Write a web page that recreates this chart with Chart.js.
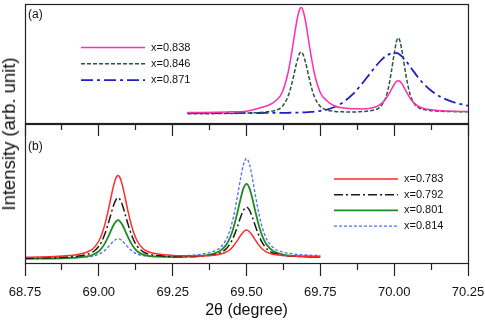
<!DOCTYPE html>
<html>
<head>
<meta charset="utf-8">
<script src="https://cdn.jsdelivr.net/npm/chart.js@4.4.1/dist/chart.umd.min.js"></script>
<style>
  html, body { margin: 0; padding: 0; background: #fff; }
  #wrap { position: relative; width: 485px; height: 321px; overflow: hidden; }
  #topPanel { position: absolute; left: 0; top: 0; }
  #botPanel { position: absolute; left: 0; top: 120px; }
  #ytitle {
    position: absolute; left: 9px; top: 134px;
    transform: translate(-50%, -50%) rotate(-90deg);
    font: 18.5px "Liberation Sans", Arial, sans-serif; color: #111; white-space: nowrap;
  }
</style>
</head>
<body>
<div id="wrap">
  <canvas id="botPanel" width="485" height="201"></canvas>
  <canvas id="topPanel" width="485" height="140"></canvas>
  <div id="ytitle">Intensity (arb. unit)</div>
</div>
<script>
// shared x axis
var xTickLabels = ['68.75', '69.00', '69.25', '69.50', '69.75', '70.00', '70.25'];

// panel (a)
var xTop = [69.30, 69.35, 69.40, 69.45, 69.50, 69.55, 69.58, 69.60, 69.62, 69.64,
  69.65, 69.66, 69.67, 69.68, 69.685, 69.69, 69.70, 69.71, 69.72, 69.73,
  69.75, 69.77, 69.80, 69.83, 69.86, 69.89, 69.92, 69.95, 69.97, 69.98,
  69.99, 70.00, 70.01, 70.015, 70.02, 70.03, 70.04, 70.05, 70.06, 70.08,
  70.10, 70.13, 70.16, 70.20, 70.25];
var a838 = [10.5, 10.6, 10.8, 11.2, 11.8, 15.5, 18.5, 22.5, 30, 49.5,
  65, 83.3, 101.5, 113.7, 115.5, 113.7, 101.5, 83.3, 65, 49.5,
  30.3, 22.8, 16.8, 15, 14.2, 14.1, 14.8, 17.8, 23.5, 27.9,
  33.3, 38.5, 42, 42.2, 41.6, 37.4, 31.9, 26.6, 22.3, 17,
  14.5, 13, 12.3, 11.8, 11.4];
var a846 = [9.2, 9.3, 9.4, 9.5, 9.9, 10.6, 11.5, 12.8, 16.2, 26.2,
  35.5, 47.6, 60.5, 69.6, 71, 69.6, 60.5, 47.6, 35.5, 26.2,
  16.5, 13.2, 11.6, 11.1, 11, 11.4, 12.3, 15.4, 24.3, 34.6,
  50.4, 69.2, 83.7, 85, 81.5, 66, 47.5, 33, 23.6, 15.7,
  13.5, 12.2, 11.7, 11.4, 11.3];
var a871 = [9.85, 9.9, 9.9, 9.9, 10.0, 10.0, 10.1, 10.1, 10.2, 10.2,
  10.3, 10.3, 10.4, 10.5, 10.5, 10.6, 10.7, 10.9, 11.1, 11.3,
  12.1, 13.2, 16.2, 21.3, 28.8, 38.9, 50.2, 61, 66.6, 68.4,
  69.6, 70.2, 69.8, 69.2, 68.1, 65.5, 62, 58.1, 54, 46,
  39.1, 31.2, 25.7, 20.9, 17.3];

// panel (b)
var xBot = [68.75, 68.80, 68.85, 68.90, 68.93, 68.96, 68.98, 69.00, 69.01, 69.02,
  69.03, 69.04, 69.05, 69.06, 69.065, 69.07, 69.08, 69.09, 69.10, 69.11,
  69.12, 69.13, 69.15, 69.17, 69.20, 69.25, 69.30, 69.33, 69.36, 69.39,
  69.41, 69.43, 69.44, 69.45, 69.46, 69.47, 69.48, 69.49, 69.50, 69.51,
  69.52, 69.53, 69.54, 69.55, 69.56, 69.57, 69.59, 69.62, 69.65, 69.70, 69.75];
var b783 = [5.7, 6.0, 6.5, 7.5, 8.6, 10.9, 14.2, 22, 28.7, 38.1,
  50.1, 64, 77.4, 86.3, 87.5, 86.3, 77.4, 64, 50.1, 38.1,
  28.7, 22, 14.3, 11, 8.9, 7.6, 7.2, 7.1, 7.3, 7.8,
  8.75, 10.7, 12.5, 15.1, 18.6, 22.9, 27.5, 31.3, 32.9, 31.3,
  27.5, 22.9, 18.6, 15.1, 12.5, 10.6, 8.7, 7.6, 7.2, 6.8, 6.8];
var b792 = [4.7, 4.9, 5.3, 6.0, 6.9, 8.6, 11, 16.8, 21.7, 28.7,
  37.6, 47.8, 57.8, 64.3, 65.2, 64.3, 57.8, 47.8, 37.6, 28.7,
  21.7, 16.8, 11.2, 8.8, 7.4, 6.5, 6.4, 6.6, 7.2, 8.3,
  10.1, 13.9, 17.4, 22.2, 28.9, 37, 45.7, 52.9, 55.9, 52.9,
  45.7, 37, 28.9, 22.2, 17.4, 13.8, 10, 7.9, 7, 6.4, 6.2];
var b801 = [4.1, 4.3, 4.5, 5.0, 5.5, 6.6, 8.2, 11.8, 15, 19.4,
  25.1, 31.7, 38, 42.2, 42.8, 42.2, 38, 31.7, 25.1, 19.4,
  15, 11.8, 8.4, 6.9, 6.3, 5.9, 6.3, 6.7, 7.7, 9.3,
  12, 17.6, 22.6, 29.8, 39.6, 51.5, 64.2, 74.8, 79.1, 74.8,
  64.2, 51.5, 39.6, 29.8, 22.6, 17.6, 12.1, 8.7, 7.3, 6.3, 5.8];
var b814 = [5.0, 5.0, 5.2, 5.4, 5.7, 6.2, 7.0, 8.8, 10.4, 12.6,
  15.5, 18.7, 21.9, 24, 24.3, 24, 21.9, 18.7, 15.5, 12.6,
  10.4, 8.8, 7.3, 6.7, 6.7, 6.8, 7.5, 8.1, 9.5, 11.8,
  15.2, 22.7, 29.5, 39.1, 52, 67.8, 84.7, 98.8, 104.5, 98.8,
  84.7, 67.8, 52, 39.1, 29.5, 22.9, 15.4, 11.1, 9.4, 8, 7.4];

var FONT = '"Liberation Sans", Arial, sans-serif';

function pts(xs, ys) {
  return xs.map(function (x, i) { return { x: x, y: ys[i] }; });
}

function tickText(v) {
  for (var i = 0; i < xTickLabels.length; i++) {
    if (Math.abs(parseFloat(xTickLabels[i]) - v) < 1e-6) return xTickLabels[i];
  }
  return '';
}

function series(label, xs, ys, color, width, dash) {
  return {
    label: label, data: pts(xs, ys), borderColor: color, borderWidth: width,
    borderDash: dash, pointRadius: 0, fill: false, cubicInterpolationMode: 'monotone'
  };
}

// frame, panel tag and in-plot legend
var panelDecor = {
  id: 'panelDecor',
  afterDraw: function (chart, args, o) {
    var ctx = chart.ctx, a = chart.chartArea;
    ctx.save();
    ctx.strokeStyle = '#222';
    ctx.lineWidth = 1.2;
    ctx.strokeRect(a.left + 0.5, a.top + 0.5, a.right - a.left, a.bottom - a.top);
    ctx.fillStyle = '#111';
    ctx.textAlign = 'left';
    ctx.textBaseline = 'middle';
    ctx.font = '12px ' + FONT;
    ctx.fillText(o.tag, a.left + 3, a.top + o.tagY);
    ctx.font = '11px ' + FONT;
    chart.data.datasets.forEach(function (ds, i) {
      var y = o.legY + i * o.legGap;
      ctx.beginPath();
      ctx.setLineDash(ds.borderDash || []);
      ctx.strokeStyle = ds.borderColor;
      ctx.lineWidth = ds.borderWidth;
      ctx.moveTo(o.legX, y);
      ctx.lineTo(o.legX + o.legLen, y);
      ctx.stroke();
      ctx.setLineDash([]);
      ctx.fillStyle = '#111';
      ctx.fillText(ds.label, o.legX + o.legLen + 6, y);
    });
    ctx.restore();
  }
};

function makePanel(id, datasets, yMax, showLabels, axisH, pad, decor) {
  return new Chart(document.getElementById(id).getContext('2d'), {
    type: 'line',
    data: { datasets: datasets },
    plugins: [panelDecor],
    options: {
      responsive: false,
      animation: false,
      layout: { padding: pad },
      plugins: { legend: { display: false }, tooltip: { enabled: false }, panelDecor: decor },
      scales: {
        x: {
          type: 'linear', min: 68.75, max: 70.25,
          afterFit: function (s) {
            s.height = axisH;
            s.paddingLeft = 0;
            s.paddingRight = 0;
          },
          border: { display: false },
          grid: {
            drawOnChartArea: false, drawTicks: true, tickLength: 13,
            tickColor: '#222', tickWidth: 1.2,
            tickBorderDash: function (c) { return c.tick && tickText(c.tick.value) ? [] : [7, 30]; }
          },
          ticks: {
            display: showLabels, stepSize: 0.125, autoSkip: false, maxRotation: 0,
            padding: 9, color: '#111', font: { family: FONT, size: 13 },
            callback: function (v) { return tickText(v); }
          },
          title: {
            display: showLabels, text: '2θ (degree)', color: '#111',
            font: { family: FONT, size: 16 }, padding: { top: 0, bottom: 1 }
          }
        },
        y: { display: false, min: 0, max: yMax }
      }
    }
  });
}

makePanel('topPanel', [
  series('x=0.838', xTop, a838, '#ff2fae', 1.5, []),
  series('x=0.846', xTop, a846, '#2b5540', 1.5, [4, 2]),
  series('x=0.871', xTop, a871, '#1f1fc8', 1.8, [12, 4, 3, 4])
], 119, false, 17, { left: 25, right: 17, top: 4, bottom: 0 },
  { tag: '(a)', tagY: 11, legX: 81, legY: 47.5, legGap: 16.3, legLen: 64 });

makePanel('botPanel', [
  series('x=0.783', xBot, b783, '#ff2a2a', 1.5, []),
  series('x=0.792', xBot, b792, '#1a1a1a', 1.5, [9, 3, 2, 3]),
  series('x=0.801', xBot, b801, '#1e8c1e', 1.8, []),
  series('x=0.814', xBot, b814, '#4f6bff', 1.3, [3, 2])
], 139, true, 58, { left: 25, right: 17, top: 4, bottom: 0 },
  { tag: '(b)', tagY: 23, legX: 334, legY: 59, legGap: 15.7, legLen: 64 });
</script>
</body>
</html>
